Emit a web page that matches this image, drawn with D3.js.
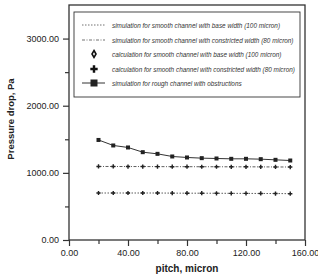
<!DOCTYPE html>
<html>
<head>
<meta charset="utf-8">
<script src="https://cdn.jsdelivr.net/npm/d3@7"></script>
<style>
  body { margin: 0; background: #fff; }
  text { font-family: Arial, "Liberation Sans", sans-serif; }
</style>
</head>
<body>
<main></main>
<script>
var pitch = [20, 30, 40, 50, 60, 70, 80, 90, 100, 110, 120, 130, 140, 150];
var baseSim = [700, 700, 700, 700, 700, 698, 697, 697, 696, 695, 694, 693, 692, 690];
var constrictedSim = [1095, 1095, 1094, 1094, 1093, 1092, 1092, 1091, 1091, 1090, 1090, 1089, 1088, 1087];
var roughSim = [1490, 1408, 1378, 1308, 1283, 1244, 1229, 1219, 1214, 1209, 1209, 1204, 1194, 1184];
var legendLabels = [
    'simulation for smooth channel with base width (100 micron)',
    'simulation for smooth channel with constricted width (80 micron)',
    'calculation for smooth channel with base width (100 micron)',
    'calculation for smooth channel with constricted width (80 micron)',
    'simulation for rough channel with obstructions'
];
var xTicks = [0, 40, 80, 120, 160];
var yTicks = [0, 1000, 2000, 3000];

!function(){
    var w = 318, h = 277;
    var left = 69, right = 305, top = 5, bottom = 240;
    var ink = '#333';

    var svg = d3.select('main').append('svg')
        .attr('width', w)
        .attr('height', h);

    var x = d3.scaleLinear().domain([0, 160]).range([left, right]);
    var y = d3.scaleLinear().domain([0, 3500]).range([bottom, top]);

    // frame
    svg.append('rect')
        .attr('x', left).attr('y', top)
        .attr('width', right - left).attr('height', bottom - top)
        .attr('fill', 'none').attr('stroke', ink).attr('stroke-width', 1.3);

    // axes
    svg.append('g')
        .attr('transform', 'translate(0,' + bottom + ')')
        .call(d3.axisBottom(x).tickValues(xTicks).tickFormat(d3.format('.2f')).tickSize(6).tickPadding(4));
    svg.append('g')
        .attr('transform', 'translate(0,' + bottom + ')')
        .call(d3.axisBottom(x).tickValues([20, 60, 100, 140]).tickFormat('').tickSize(4));
    svg.append('g')
        .attr('transform', 'translate(' + left + ',0)')
        .call(d3.axisLeft(y).tickValues(yTicks).tickFormat(d3.format('.2f')).tickSize(6).tickPadding(4));
    svg.append('g')
        .attr('transform', 'translate(' + left + ',0)')
        .call(d3.axisLeft(y).tickValues([500, 1500, 2500]).tickFormat('').tickSize(4));

    svg.selectAll('.domain').remove();
    svg.selectAll('.tick line').attr('stroke', ink).attr('stroke-width', 1.2);
    svg.selectAll('.tick text')
        .attr('fill', '#222')
        .style('font-size', '9px');

    svg.append('text')
        .attr('x', (left + right) / 2).attr('y', 272)
        .attr('text-anchor', 'middle')
        .style('font-size', '10px').style('font-weight', 'bold')
        .attr('fill', '#222')
        .text('pitch, micron');

    svg.append('text')
        .attr('transform', 'translate(14,119) rotate(-90)')
        .attr('text-anchor', 'middle')
        .style('font-size', '9.5px').style('font-weight', 'bold')
        .attr('fill', '#222')
        .text('Pressure drop, Pa');

    var line = d3.line().x(function(d){ return x(d[0]); }).y(function(d){ return y(d[1]); });
    var zip = function(vals){ return pitch.map(function(p, i){ return [p, vals[i]]; }); };

    // series
    svg.append('path').datum(zip(baseSim)).attr('d', line)
        .attr('fill', 'none').attr('stroke', ink).attr('stroke-width', 0.8)
        .attr('stroke-dasharray', '1.5,1.5');
    svg.append('path').datum(zip(constrictedSim)).attr('d', line)
        .attr('fill', 'none').attr('stroke', ink).attr('stroke-width', 0.8)
        .attr('stroke-dasharray', '3,1.5,1,1.5');
    svg.append('path').datum(zip(roughSim)).attr('d', line)
        .attr('fill', 'none').attr('stroke', ink).attr('stroke-width', 1);

    var plus = d3.symbol().type(d3.symbolCross).size(10);
    [baseSim, constrictedSim].forEach(function(s){
        svg.append('g').selectAll('path').data(zip(s)).join('path')
            .attr('d', plus)
            .attr('transform', function(d){ return 'translate(' + x(d[0]) + ',' + y(d[1]) + ')'; })
            .attr('fill', '#222');
    });
    svg.append('g').selectAll('rect').data(zip(roughSim)).join('rect')
        .attr('x', function(d){ return x(d[0]) - 2; })
        .attr('y', function(d){ return y(d[1]) - 2; })
        .attr('width', 4).attr('height', 4)
        .attr('fill', '#222');

    // legend
    var lg = svg.append('g');
    lg.append('rect')
        .attr('x', 74).attr('y', 12).attr('width', 226).attr('height', 85)
        .attr('fill', '#fff').attr('stroke', ink).attr('stroke-width', 0.9);
    var rows = [25, 40, 54, 69, 83];
    lg.selectAll('text').data(legendLabels).join('text')
        .attr('x', 112).attr('y', function(d, i){ return rows[i] + 2.5; })
        .style('font-size', '6.4px').style('font-style', 'italic')
        .attr('fill', '#333')
        .text(function(d){ return d; });
    lg.append('line').attr('x1', 82).attr('x2', 105).attr('y1', rows[0]).attr('y2', rows[0])
        .attr('stroke', ink).attr('stroke-width', 0.7).attr('stroke-dasharray', '1.5,1.5');
    lg.append('line').attr('x1', 82).attr('x2', 105).attr('y1', rows[1]).attr('y2', rows[1])
        .attr('stroke', ink).attr('stroke-width', 0.7).attr('stroke-dasharray', '3,1.5,1,1.5');
    lg.append('path').attr('d', d3.symbol().type(d3.symbolDiamond).size(14)())
        .attr('transform', 'translate(94,' + rows[2] + ')')
        .attr('fill', '#fff').attr('stroke', '#111').attr('stroke-width', 1.6);
    lg.append('path').attr('d', d3.symbol().type(d3.symbolCross).size(30)())
        .attr('transform', 'translate(94,' + rows[3] + ')')
        .attr('fill', '#111');
    lg.append('line').attr('x1', 82).attr('x2', 105).attr('y1', rows[4]).attr('y2', rows[4])
        .attr('stroke', ink).attr('stroke-width', 1);
    lg.append('rect').attr('x', 90.5).attr('y', rows[4] - 3.5).attr('width', 7).attr('height', 7)
        .attr('fill', '#222');
}();
</script>
</body>
</html>
